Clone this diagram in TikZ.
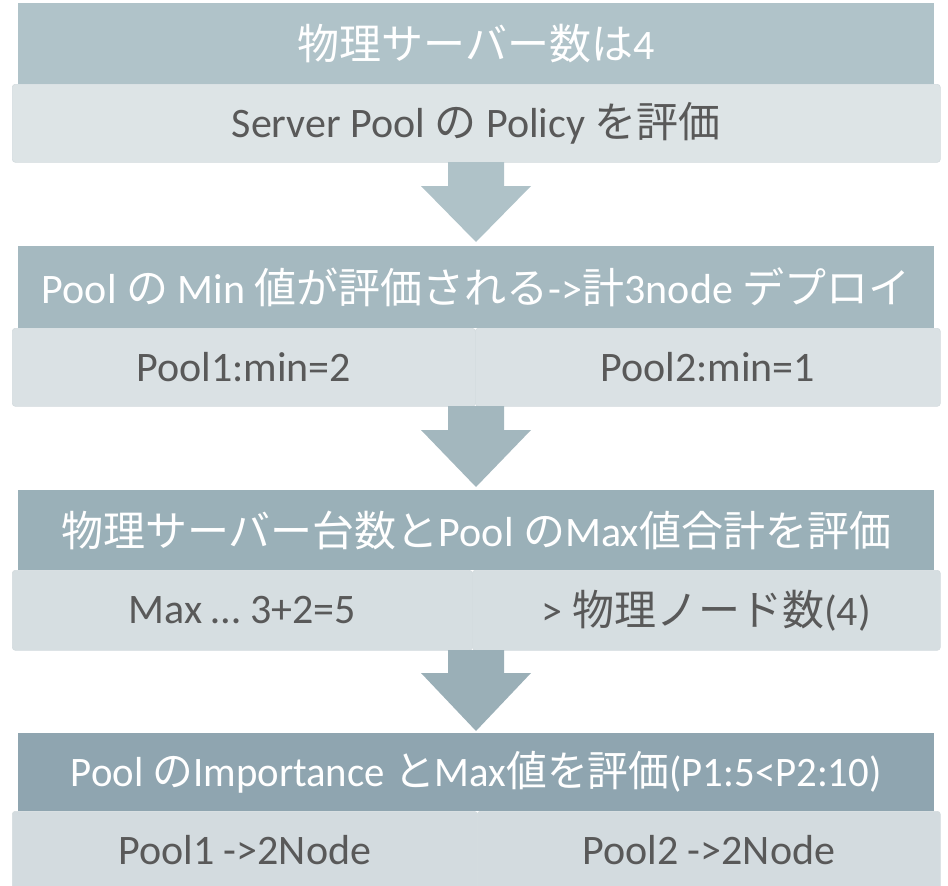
\documentclass[tikz,border=0pt]{standalone}
\usepackage{fontspec}
\setmainfont{Carlito}
\newfontfamily\jp{Noto Sans CJK JP}
\usetikzlibrary{calc}
\definecolor{hA}{HTML}{B0C3C9}
\definecolor{hB}{HTML}{A5B9C0}
\definecolor{hC}{HTML}{9AB0B8}
\definecolor{hD}{HTML}{8FA5B0}
\definecolor{sA}{HTML}{DDE4E6}
\definecolor{sB}{HTML}{DAE1E4}
\definecolor{sC}{HTML}{D6DEE1}
\definecolor{sD}{HTML}{D3DBDF}
\definecolor{sEdge}{HTML}{D3DBDE}
\definecolor{txt}{HTML}{595959}
\definecolor{aA}{HTML}{AFC2C8}
\definecolor{aB}{HTML}{A3B7BE}
\definecolor{aC}{HTML}{9AAFB7}
\begin{document}
\begin{tikzpicture}[x=1pt,y=-1pt,
  header/.style={anchor=north west,inner sep=0pt,minimum width=916pt,text=white,
    font=\fontsize{42}{50}\selectfont},
  subbox/.style={anchor=north west,inner sep=0pt,draw=sEdge,line width=0.6pt,
    rounded corners=3pt,text=txt,font=\fontsize{42}{50}\selectfont},
]
\useasboundingbox (0,0) rectangle (948,886);
% block 1
\node[subbox,fill=sA,minimum width=928pt,minimum height=78pt] (s1) at (12,84)
  {Server Pool {\jp の} Policy {\jp を評価}};
\node[header,fill=hA,minimum height=81pt] (h1) at (18,3) {{\jp 物理サーバー数は}4};
% block 2
\node[subbox,fill=sB,minimum width=463pt,minimum height=78pt] (s2l) at (12,328) {Pool1:min=2};
\node[subbox,fill=sB,minimum width=465pt,minimum height=78pt] (s2r) at (475,328) {Pool2:min=1};
\node[header,fill=hB,minimum height=82pt] (h2) at (18,246)
  {Pool {\jp の} Min {\jp 値が評価される}->{\jp 計}3node {\jp デプロイ}};
% block 3
\node[subbox,fill=sC,minimum width=460pt,minimum height=80pt] (s3l) at (12,570) {Max … 3+2=5};
\node[subbox,fill=sC,minimum width=468pt,minimum height=80pt] (s3r) at (472,570) {> {\jp 物理ノード数}(4)};
\node[header,fill=hC,minimum height=80pt] (h3) at (18,490)
  {{\jp 物理サーバー台数と}Pool {\jp の}Max{\jp 値合計を評価}};
% block 4
\node[subbox,fill=sD,minimum width=465pt,minimum height=78pt] (s4l) at (12,811) {Pool1 ->2Node};
\node[subbox,fill=sD,minimum width=463pt,minimum height=78pt] (s4r) at (477,811) {Pool2 ->2Node};
\node[header,fill=hD,minimum height=78pt] (h4) at (18,733)
  {\scalebox{0.97}[1]{Pool {\jp の}Importance {\jp と}Max{\jp 値を評価}(P1:5<P2:10)}};
% arrows
\coordinate (a1s) at (476,162);
\coordinate (a1t) at (476,242);
\coordinate (a2s) at (476,406);
\coordinate (a2t) at (476,487);
\coordinate (a3s) at (476,650);
\coordinate (a3t) at (476,731);
\fill[aA] ($(a1s)+(-28,0)$) -- ($(a1s)+(28,0)$) -- ($(a1s)+(28,24)$) -- ($(a1s)+(55,24)$)
  -- (a1t) -- ($(a1s)+(-55,24)$) -- ($(a1s)+(-28,24)$) -- cycle;
\fill[aB] ($(a2s)+(-28,0)$) -- ($(a2s)+(28,0)$) -- ($(a2s)+(28,24)$) -- ($(a2s)+(55,24)$)
  -- (a2t) -- ($(a2s)+(-55,24)$) -- ($(a2s)+(-28,24)$) -- cycle;
\fill[aC] ($(a3s)+(-28,0)$) -- ($(a3s)+(28,0)$) -- ($(a3s)+(28,23)$) -- ($(a3s)+(55,23)$)
  -- (a3t) -- ($(a3s)+(-55,23)$) -- ($(a3s)+(-28,23)$) -- cycle;
\end{tikzpicture}
\end{document}
